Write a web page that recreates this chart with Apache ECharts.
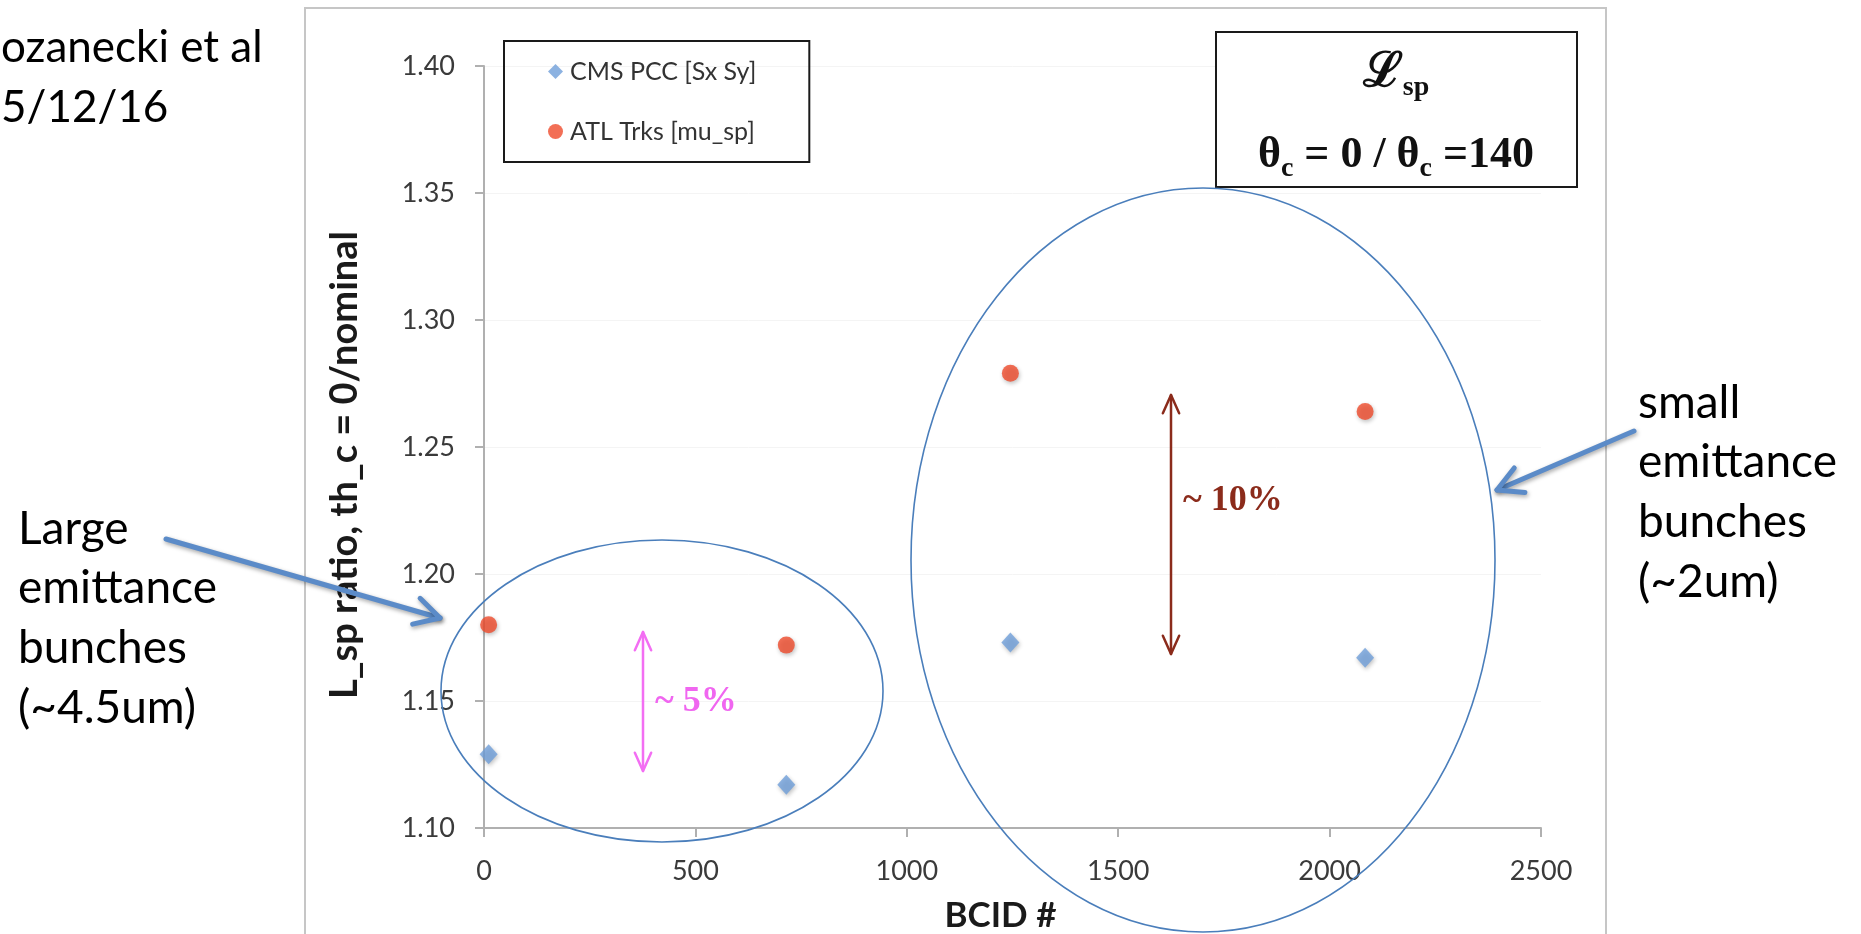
<!DOCTYPE html>
<html><head><meta charset="utf-8">
<script src="https://cdn.jsdelivr.net/npm/echarts@6/dist/echarts.min.js"></script>
<style>html,body{margin:0;padding:0;background:#fff;overflow:hidden}#c{width:1861px;height:934px}</style>
</head><body><div id="c"></div>
<script>
// ---- data ----
const bcid = [11, 715, 1245, 2084];
const cmsPCC = [1.129, 1.117, 1.173, 1.167];
const atlTrks = [1.180, 1.172, 1.279, 1.264];
const seriesNames = ['CMS PCC [Sx Sy]', 'ATL Trks [mu_sp]'];
const yRange = [1.10, 1.40, 0.05];
const xRange = [0, 2500, 500];
const xTitle = 'BCID #';
const yTitle = 'L_sp ratio, th_c = 0/nominal';
const authorLines = ['ozanecki et al', '5/12/16'];
const leftNote = 'Large\nemittance\nbunches\n(~4.5um)';
const rightNote = 'small\nemittance\nbunches\n(~2um)';
const spreadSmall = '~ 5%';
const spreadLarge = '~ 10%';

const SANS = 'Lato, "Open Sans", sans-serif';
const SERIF = '"Liberation Serif", "DejaVu Serif", serif';

function arrowHead(x1, y1, x2, y2, len, ang) {
  const a = Math.atan2(y2 - y1, x2 - x1);
  return [[x2 - len * Math.cos(a - ang), y2 - len * Math.sin(a - ang)], [x2, y2],
          [x2 - len * Math.cos(a + ang), y2 - len * Math.sin(a + ang)]];
}
function arrow(x1, y1, x2, y2, color, w, len, ang, both, shadow) {
  const st = {stroke: color, lineWidth: w, lineCap: 'round', lineJoin: 'round', fill: 'none'};
  if (shadow) Object.assign(st, {shadowBlur: 4, shadowColor: 'rgba(0,0,0,0.35)', shadowOffsetX: 1, shadowOffsetY: 2});
  const els = [
    {type: 'line', shape: {x1, y1, x2, y2}, style: st, z: 20},
    {type: 'polyline', shape: {points: arrowHead(x1, y1, x2, y2, len, ang)}, style: st, z: 20}
  ];
  if (both) els.push({type: 'polyline', shape: {points: arrowHead(x2, y2, x1, y1, len, ang)}, style: st, z: 20});
  return els;
}

const chart = echarts.init(document.getElementById('c'), null, {renderer: 'canvas'});
const axisLine = {lineStyle: {color: '#b0b0b0', width: 2}};
const shadowStyle = {shadowBlur: 4, shadowColor: 'rgba(0,0,0,0.3)', shadowOffsetX: 1, shadowOffsetY: 2};
const graphics = [
  {type: 'rect', shape: {x: 305, y: 8, width: 1301, height: 960}, style: {fill: 'none', stroke: '#c6c6c6', lineWidth: 2}, z: 0},
  // top-right formula box
  {type: 'rect', shape: {x: 1216, y: 32, width: 361, height: 155}, style: {fill: '#fff', stroke: '#1a1a1a', lineWidth: 2}, z: 5},
  {type: 'text', x: 1396, y: 74, style: {
      text: '{m|ℒ}{s|sp}', align: 'center', verticalAlign: 'middle',
      rich: {m: {fontSize: 48, fontFamily: SERIF, fontWeight: 'bold', fill: '#111', lineHeight: 56},
             s: {fontSize: 28, fontFamily: SERIF, fontWeight: 'bold', fill: '#111', verticalAlign: 'bottom', lineHeight: 28}}}, z: 6},
  {type: 'text', x: 1396, y: 156, style: {
      text: '{m|θ}{s|c}{m| = 0 / θ}{s|c}{m| =140}', align: 'center', verticalAlign: 'middle',
      rich: {m: {fontSize: 44, fontFamily: SERIF, fontWeight: 'bold', fill: '#111', lineHeight: 54},
             s: {fontSize: 28, fontFamily: SERIF, fontWeight: 'bold', fill: '#111', verticalAlign: 'bottom', lineHeight: 28}}}, z: 6},
  // ellipses
  {type: 'ellipse', shape: {cx: 662, cy: 691, rx: 221, ry: 151}, style: {fill: 'none', stroke: '#4a7ebb', lineWidth: 1.6}, z: 15},
  {type: 'ellipse', shape: {cx: 1203, cy: 560, rx: 292, ry: 372}, style: {fill: 'none', stroke: '#4a7ebb', lineWidth: 1.6}, z: 15},
  // notes
  {type: 'text', x: 1, y: 48, style: {text: authorLines[0], font: '44px ' + SANS, fill: '#000', verticalAlign: 'middle'}},
  {type: 'text', x: 1, y: 108, style: {text: authorLines[1], font: '44px ' + SANS, fill: '#000', verticalAlign: 'middle'}},
  {type: 'text', x: 18, y: 499, style: {text: leftNote, fontSize: 46, fontFamily: SANS, lineHeight: 59.7, fill: '#000', verticalAlign: 'top'}},
  {type: 'text', x: 1638, y: 373, style: {text: rightNote, fontSize: 46, fontFamily: SANS, lineHeight: 59.7, fill: '#000', verticalAlign: 'top'}},
  {type: 'text', x: 655, y: 702, style: {text: spreadSmall, fontSize: 36, fontFamily: SERIF, fontWeight: 'bold', fill: '#f066f0', verticalAlign: 'middle'}, z: 20},
  {type: 'text', x: 1183, y: 501, style: {text: spreadLarge, fontSize: 36, fontFamily: SERIF, fontWeight: 'bold', fill: '#8b2b1b', verticalAlign: 'middle'}, z: 20}
]
  .concat(arrow(166, 539, 440, 618, '#5b8bc8', 5, 28, 0.5, false, true))
  .concat(arrow(1634, 431, 1497, 490, '#5b8bc8', 5, 28, 0.5, false, true))
  .concat(arrow(643, 632, 643, 771, '#f36ef3', 2.5, 20, 0.42, true, false))
  .concat(arrow(1171, 395, 1171, 654, '#8b2b1b', 2.5, 20, 0.42, true, false));

chart.setOption({
  animation: false,
  backgroundColor: '#fff',
  grid: {left: 484, top: 66, width: 1057, height: 762, containLabel: false, outerBoundsMode: 'none'},
  legend: {
    left: 504, top: 41, orient: 'vertical',
    data: [{name: seriesNames[0], icon: 'diamond'}, {name: seriesNames[1], icon: 'circle'}],
    borderColor: '#1a1a1a', borderWidth: 2, borderRadius: 0,
    padding: [18, 53, 18, 44], itemGap: 35, itemWidth: 15, itemHeight: 15,
    textStyle: {fontSize: 25, fontFamily: SANS, color: '#333', padding: [0, 0, 0, 2]}
  },
  xAxis: {
    type: 'value', min: xRange[0], max: xRange[1], interval: xRange[2],
    axisLine: axisLine, axisTick: {show: true, length: 9, lineStyle: {color: '#b0b0b0', width: 2}},
    axisLabel: {fontSize: 27, fontFamily: SANS, color: '#3a3a3a', margin: 30, formatter: v => String(v)},
    splitLine: {show: false},
    name: xTitle, nameLocation: 'middle', nameGap: 70,
    nameTextStyle: {fontSize: 35, fontFamily: SANS, fontWeight: 'bold', color: '#1a1a1a', padding: [0, 24, 0, 0]}
  },
  yAxis: {
    type: 'value', min: yRange[0], max: yRange[1], interval: yRange[2],
    axisLine: {show: true, lineStyle: {color: '#b0b0b0', width: 2}},
    axisTick: {show: true, length: 9, lineStyle: {color: '#b0b0b0', width: 2}},
    axisLabel: {fontSize: 27, fontFamily: SANS, color: '#3a3a3a', margin: 29, formatter: v => v.toFixed(2)},
    splitLine: {show: true, lineStyle: {color: '#f4f4f4', width: 1}},
    name: yTitle, nameLocation: 'middle', nameGap: 120, nameRotate: 90,
    nameTextStyle: {fontSize: 38, fontFamily: SANS, fontWeight: 'bold', color: '#1a1a1a', padding: [0, 36, 0, 0]}
  },
  series: [
    {name: seriesNames[0], type: 'scatter', symbol: 'diamond', symbolSize: [18, 20],
     itemStyle: Object.assign({color: '#6f9fd9'}, shadowStyle), data: bcid.map((x, i) => [x, cmsPCC[i]]), z: 10},
    {name: seriesNames[1], type: 'scatter', symbol: 'circle', symbolSize: 17,
     itemStyle: Object.assign({color: '#ef4b2c'}, shadowStyle), data: bcid.map((x, i) => [x, atlTrks[i]]), z: 10}
  ],
  graphic: {elements: graphics}
});
</script></body></html>
